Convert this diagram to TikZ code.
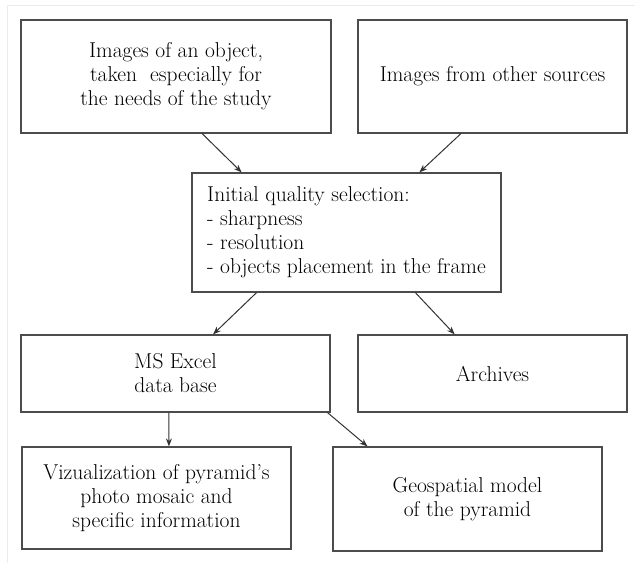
\documentclass[tikz,border=0pt]{standalone}
\usetikzlibrary{arrows.meta,calc,positioning}
\tikzset{
    recgry/.style={draw=black!70,line width=1.2pt,inner sep=0pt,align=center,text=black,font=\fontsize{21.5}{24}\selectfont},
    recsel/.style={recgry,align=left,minimum width=309pt,minimum height=119pt},
    arrowgry/.style={draw=black!80,line width=1pt,-{Stealth[length=8pt,width=6pt]}},
    framegry/.style={draw=black!8,line width=1pt}
}
\begin{document}
\begin{tikzpicture}[x=1pt,y=-1pt]
        \useasboundingbox (0,0) rectangle (635,563);
        % faint outer frame
        \draw[framegry] (7,563) -- (7,5) -- (635,5);

        % sources
        \node[recgry,minimum width=310pt,minimum height=113pt] (imgobj) at (176,76.5) {Images of an object,\\taken\ \ especially for\\the needs of the study};
        \node[recgry,minimum width=269pt,minimum height=113pt] (imgoth) at (492.5,76.5) {Images from other sources};

        % selection
        \node[recsel] (select) at (346.5,232.5) {Initial quality selection:\\- sharpness\\- resolution\\- objects placement in the frame};

        % storage
        \node[recgry,minimum width=309pt,minimum height=77pt] (excel) at (175.5,373.5) {MS Excel\\data base};
        \node[recgry,minimum width=269pt,minimum height=77pt] (archive) at (492.5,373.5) {Archives};

        % outputs
        \node[recgry,minimum width=269pt,minimum height=102pt] (vizual) at (156.5,498) {Vizualization of pyramid's\\photo mosaic and\\specific information};
        \node[recgry,minimum width=269pt,minimum height=104pt] (geomod) at (467.5,499) {Geospatial model\\of the pyramid};

        % arrows
        \draw[arrowgry] ($(imgobj.south west)!.584!(imgobj.south east)$) -- ($(select.north west)!.162!(select.north east)$);
        \draw[arrowgry] ($(imgoth.south west)!.383!(imgoth.south east)$) -- ($(select.north west)!.735!(select.north east)$);
        \draw[arrowgry] ($(select.south west)!.21!(select.south east)$) -- ($(excel.north west)!.621!(excel.north east)$);
        \draw[arrowgry] ($(select.south west)!.722!(select.south east)$) -- ($(archive.north west)!.36!(archive.north east)$);
        \draw[arrowgry] ($(excel.south west)!.479!(excel.south east)$) -- ($(vizual.north west)!.546!(vizual.north east)$);
        \draw[arrowgry] ($(excel.south west)!.99!(excel.south east)$) -- ($(geomod.north west)!.13!(geomod.north east)$);
    \end{tikzpicture}
\end{document}
